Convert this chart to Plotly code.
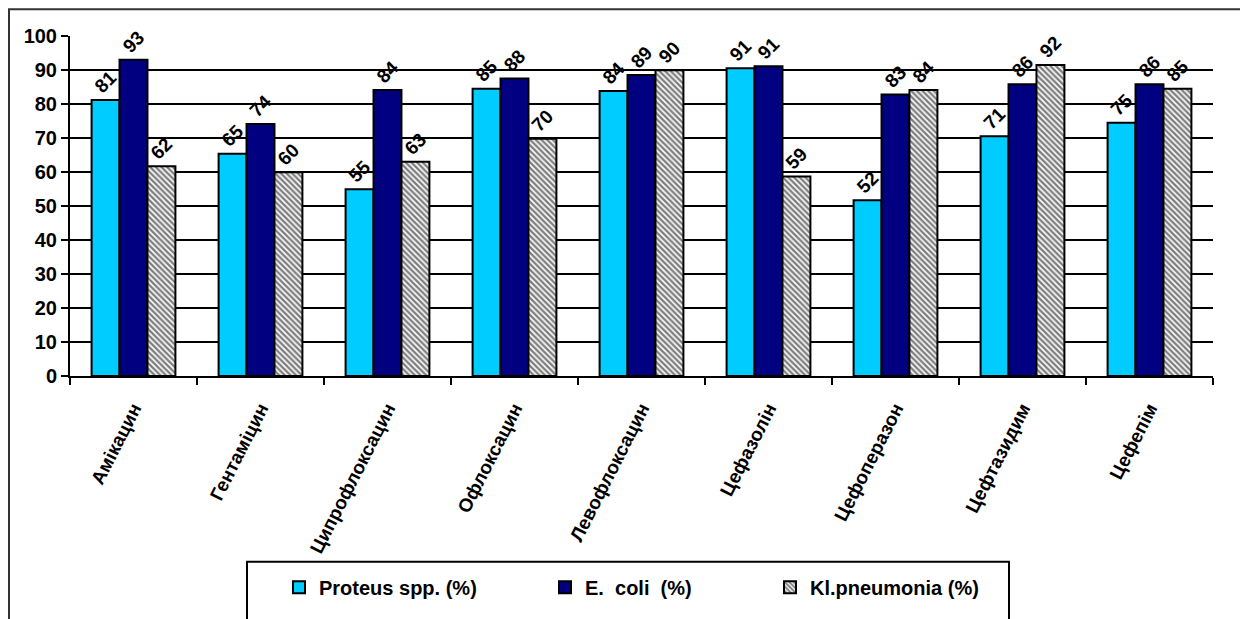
import plotly.graph_objects as go

categories = ["Амікацин", "Гентаміцин", "Ципрофлоксацин", "Офлоксацин", "Левофлоксацин",
              "Цефазолін", "Цефоперазон", "Цефтазидим", "Цефепім"]
proteus = [81.2, 65.4, 54.9, 84.5, 83.8, 90.5, 51.7, 70.5, 74.5]
ecoli = [93.0, 74.1, 84.1, 87.5, 88.5, 91.1, 82.8, 85.8, 85.8]
kleb = [61.7, 59.9, 63.0, 69.8, 89.9, 58.7, 84.1, 91.5, 84.5]
series_names = ["Proteus spp. (%)", "E.  coli  (%)", "Kl.pneumonia (%)"]
y_ticks = [0, 10, 20, 30, 40, 50, 60, 70, 80, 90, 100]

FONT = "Arial, Liberation Sans, sans-serif"
label_font = dict(family=FONT, size=19, color="black", weight="bold")

# page has an 8px body margin; plot area in page px: x 70..1213, y 36..380
PL, PW, PB, PH = 70, 1143, 380, 344
def px(x):
    return (x - PL) / PW
def py(y):
    return (PB - y) / PH

fig = go.Figure()
common = dict(texttemplate="%{y:.0f}", textposition="outside", textangle=-45,
              textfont=label_font, cliponaxis=False)
fig.add_trace(go.Bar(x=categories, y=proteus, name=series_names[0], legend="legend",
                     marker=dict(color="#00CCFF", line=dict(color="black", width=2)), **common))
fig.add_trace(go.Bar(x=categories, y=ecoli, name=series_names[1], legend="legend2",
                     marker=dict(color="#000080", line=dict(color="black", width=2)), **common))
fig.add_trace(go.Bar(x=categories, y=kleb, name=series_names[2], legend="legend3",
                     marker=dict(color="white", line=dict(color="black", width=2),
                                 pattern=dict(shape="\\", fgcolor="black", bgcolor="white",
                                              size=4, solidity=0.6)), **common))

leg_font = dict(family=FONT, size=20, color="black", weight="bold")
def leg(xpage):
    return dict(orientation="h", x=px(xpage), y=py(574), xanchor="left", yanchor="top",
                borderwidth=0, bgcolor="rgba(0,0,0,0)", font=leg_font)

fig.update_layout(
    width=1240, height=611,
    margin=dict(l=62, r=35, t=28, b=239),
    paper_bgcolor="white", plot_bgcolor="white",
    barmode="group", bargap=0.34, bargroupgap=0,
    font=dict(family=FONT, color="black"),
    showlegend=True,
    legend=leg(279), legend2=leg(545), legend3=leg(770),
    xaxis=dict(showline=True, linecolor="black", linewidth=2, ticks="outside",
               tickson="boundaries", ticklen=7, tickcolor="black", tickwidth=2,
               tickangle=-63, ticklabelstandoff=12,
               tickfont=dict(family=FONT, size=19, color="black", weight="bold"),
               showgrid=False),
    yaxis=dict(range=[0, 100], tickvals=y_ticks, showline=True, linecolor="black",
               linewidth=2, ticks="outside", ticklen=7, tickcolor="black", tickwidth=2,
               showgrid=True, gridcolor="black", gridwidth=2, zeroline=False,
               tickfont=dict(family=FONT, size=20, color="black", weight="bold")),
    shapes=[
        dict(type="rect", xref="paper", yref="paper",
             x0=px(9), x1=px(1246), y0=py(640), y1=py(9),
             line=dict(color="#333333", width=2), fillcolor="rgba(0,0,0,0)", layer="below"),
        dict(type="rect", xref="paper", yref="paper",
             x0=px(247), x1=px(1009), y0=py(640), y1=py(568),
             line=dict(color="black", width=2), fillcolor="rgba(0,0,0,0)", layer="above"),
    ],
)

fig.write_html("out.html")
